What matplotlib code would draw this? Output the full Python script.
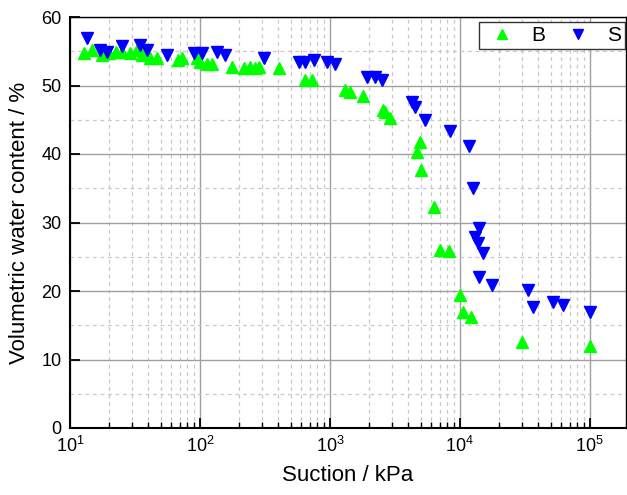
import numpy as np
import matplotlib
matplotlib.use("Agg")
import matplotlib.pyplot as plt
from matplotlib.ticker import LogLocator, MultipleLocator, NullFormatter

plt.rcParams['font.family'] = ['Liberation Sans', 'DejaVu Sans']

# -------------------------
# data
# -------------------------
b_suction = [12.8, 14.8, 17.7, 19.8, 22.4, 25.2, 29.2, 32.9, 35.9, 41.6, 46.8,
             68.2, 72.8, 95, 100.7, 113.5, 124, 176.6, 217, 244, 266.6, 282.6,
             402.5, 645, 727, 1312, 1433, 1813, 2570, 2661, 2908, 4943, 4713,
             5000, 6335, 7048, 8305, 10050, 10530, 12130, 29900, 100000]
b_water = [54.7, 55.2, 54.5, 54.7, 54.9, 54.9, 54.7, 55.2, 54.5, 54.0, 54.0,
           53.7, 54.0, 54.0, 53.5, 53.2, 53.2, 52.7, 52.5, 52.7, 52.5, 52.7,
           52.5, 50.8, 50.8, 49.3, 49.1, 48.4, 46.4, 46.2, 45.2, 41.8, 40.3,
           37.7, 32.3, 26.0, 25.8, 19.4, 16.9, 16.2, 12.6, 11.9]

s_suction = [13.5, 17.1, 19.3, 25.2, 34.8, 39.2, 55.8, 89.5, 103.8, 135, 156.6,
             309, 574, 646, 748, 948, 1099, 1923, 2228, 2511, 4268, 4527, 5358,
             8420, 11840, 12570, 13100, 13740, 14130, 15170, 14060, 17590,
             33270, 36330, 52330, 61800, 100000]
s_water = [56.9, 55.2, 54.9, 55.7, 55.9, 55.2, 54.5, 54.7, 54.7, 54.9, 54.5,
           54.0, 53.5, 53.5, 53.7, 53.5, 53.2, 51.3, 51.3, 50.8, 47.6, 46.9, 45.0,
           43.3, 41.1, 35.0, 27.9, 27.0, 29.2, 25.6, 22.1, 20.9,
           20.2, 17.7, 18.4, 18.0, 17.0]

# -------------------------
# plot
# -------------------------
fig = plt.figure(figsize=(6.27, 4.95), dpi=100)
ax = fig.add_axes([70 / 627, 1 - 428 / 495, 556 / 627, 411 / 495])

ax.plot(b_suction, b_water, linestyle='none', marker='^', ms=8.5,
        color='#00ff00', mec='#00ff00', label='B', zorder=3)
ax.plot(s_suction, s_water, linestyle='none', marker='v', ms=8.5,
        color='#0000ff', mec='#0000ff', label='S', zorder=3)

ax.set_xscale('log')
ax.set_xlim(10, 1.9e5)
ax.set_ylim(0, 60)
ax.yaxis.set_major_locator(MultipleLocator(10))
ax.yaxis.set_minor_locator(MultipleLocator(5))
ax.xaxis.set_major_locator(LogLocator(base=10, numticks=10))
ax.xaxis.set_minor_locator(LogLocator(base=10, subs=np.arange(2, 10), numticks=20))
ax.xaxis.set_minor_formatter(NullFormatter())

ax.grid(which='major', color='#a0a0a0', linestyle='-', linewidth=1.0, zorder=0)
ax.grid(which='minor', color='#c8c8c8', linestyle=(0, (3, 3)), linewidth=0.9, zorder=0)
ax.set_axisbelow(True)

ax.tick_params(which='major', direction='in', length=7, width=1.3, labelsize=13,
               top=False, right=False, pad=6)
ax.tick_params(which='minor', direction='in', length=4, width=1.0,
               top=False, right=False)
ax.tick_params(axis='y', which='minor', length=0)

for side in ['left', 'bottom']:
    ax.spines[side].set_linewidth(1.5)
for side in ['top', 'right']:
    ax.spines[side].set_linewidth(1.0)

ax.set_xlabel('Suction / kPa', fontsize=16, labelpad=6)
ax.set_ylabel('Volumetric water content / %', fontsize=16, labelpad=8)

leg = ax.legend(loc='upper right', ncol=2, fontsize=15, frameon=True, fancybox=False,
                edgecolor='#333333', framealpha=1, borderpad=0.2, borderaxespad=0,
                handlelength=1.8, handletextpad=0.5, columnspacing=0.7,
                markerscale=0.9, bbox_to_anchor=(0.999, 0.988))
leg.get_frame().set_linewidth(1.0)

fig.savefig('out.png', dpi=100)
